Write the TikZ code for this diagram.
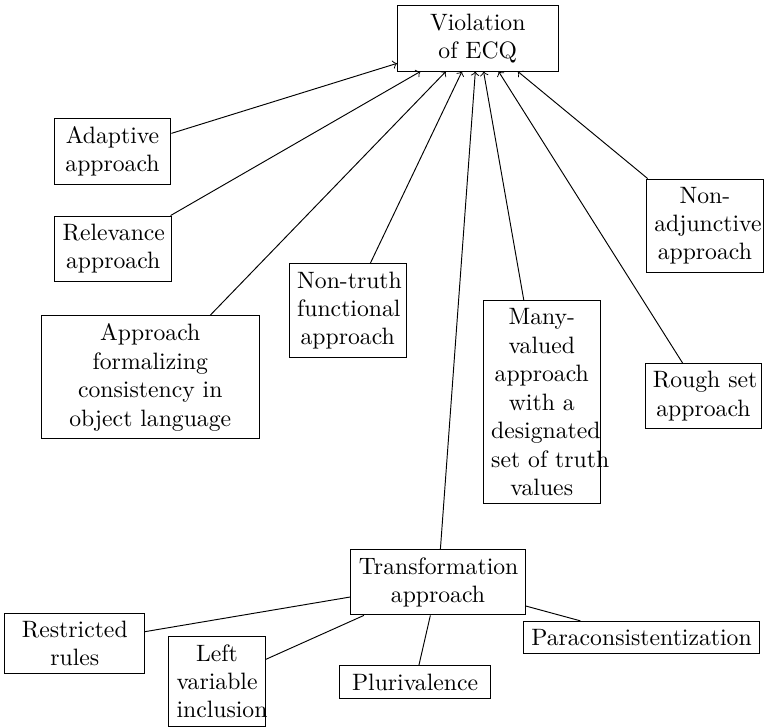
\documentclass[tikz,border=0pt]{standalone}
\begin{document}
\begin{tikzpicture}[scale=1, every node/.style={rectangle,draw,align=center}]
            \useasboundingbox (0,0) rectangle (11.62,-10.80);
            \node[text width=2.15cm] (ecq) at (7.09,-0.57) {Violation\\of ECQ};
            \node[text width=1.5cm] (adaptive) at (1.67,-2.25) {Adaptive\\approach};
            \node[text width=1.5cm] (relevance) at (1.68,-3.69) {Relevance\\approach};
            \node[text width=3cm] (formal) at (2.23,-5.60) {Approach\\formalizing\\consistency in\\object language};
            \node[text width=1.5cm] (nontruth) at (5.16,-4.61) {\mbox{Non-truth}\\functional\\approach};
            \node[text width=1.5cm] (manyval) at (8.04,-5.97) {Many-\\valued\\approach\\with a\\designated\\\mbox{set of truth}\\values};
            \node[text width=1.5cm] (nonadj) at (10.46,-3.35) {Non-\\adjunctive\\approach};
            \node[text width=1.5cm] (rough) at (10.44,-5.88) {\mbox{Rough set}\\approach};
            \node[text width=2.35cm] (transf) at (6.50,-8.64) {Transformation\\approach};
            \node[text width=1.84cm] (restricted) at (1.11,-9.55) {Restricted\\rules};
            \node[text width=1.2cm] (leftvar) at (3.22,-10.11) {Left\\variable\\inclusion};
            \node[text width=2cm] (pluri) at (6.16,-10.12) {Plurivalence};
            \node (paracons) at (9.52,-9.46) {Paraconsistentization};
            \draw[->] (adaptive) -- (ecq);
            \draw[->] (relevance) -- (ecq);
            \draw[->] (formal) -- (ecq);
            \draw[->] (nontruth) -- (ecq);
            \draw[->] (transf) -- (ecq);
            \draw[->] (manyval) -- (ecq);
            \draw[->] (rough) -- (ecq);
            \draw[->] (nonadj) -- (ecq);
            \draw (transf) -- (restricted);
            \draw (transf) -- (leftvar);
            \draw (transf) -- (pluri);
            \draw (transf) -- (paracons);
        \end{tikzpicture}
\end{document}
